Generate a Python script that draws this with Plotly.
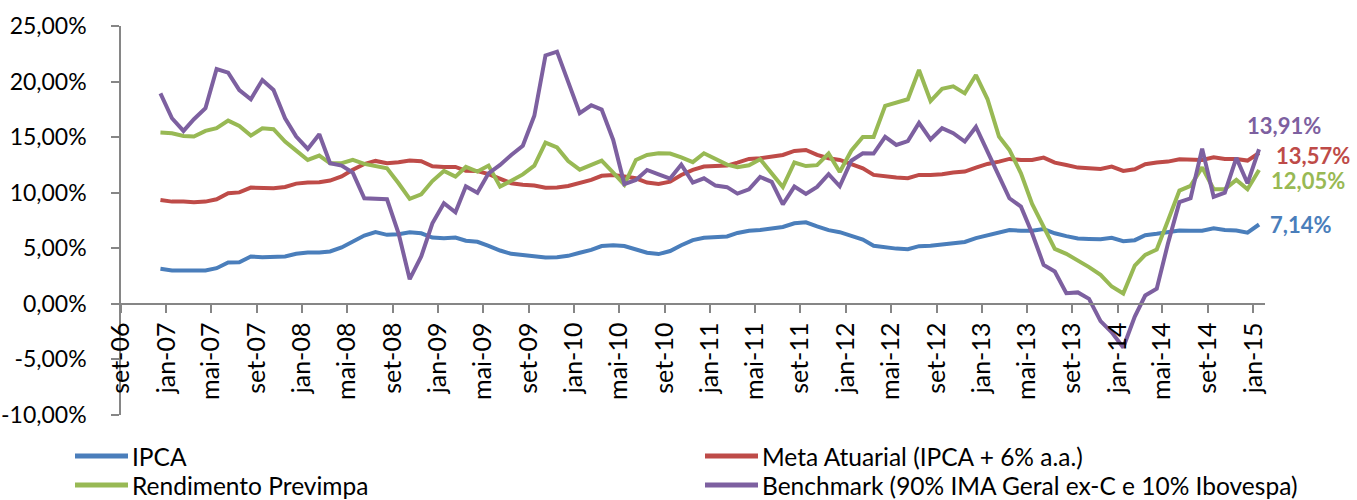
import pandas as pd
import plotly.graph_objects as go

# Monthly observations, dez-06 .. jan-15 (98 months)
months = pd.date_range("2006-12-01", "2015-01-01", freq="MS")

ipca = [3.15, 3.00, 3.00, 2.97, 3.00, 3.21, 3.72, 3.75, 4.26, 4.20,
        4.20, 4.26, 4.50, 4.62, 4.62, 4.71, 5.07, 5.61, 6.15, 6.45,
        6.21, 6.27, 6.45, 6.35, 5.97, 5.91, 5.97, 5.68, 5.58, 5.22,
        4.80, 4.50, 4.37, 4.30, 4.18, 4.20, 4.32, 4.60, 4.86, 5.20,
        5.28, 5.20, 4.86, 4.60, 4.48, 4.75, 5.27, 5.73, 5.95, 6.02,
        6.06, 6.38, 6.58, 6.65, 6.79, 6.92, 7.25, 7.34, 6.97, 6.63,
        6.45, 6.15, 5.79, 5.22, 5.05, 4.97, 4.92, 5.19, 5.23, 5.32,
        5.49, 5.57, 5.91, 6.19, 6.38, 6.65, 6.58, 6.58, 6.73, 6.35,
        6.09, 5.88, 5.84, 5.82, 5.94, 5.64, 5.73, 6.18, 6.30, 6.45,
        6.59, 6.58, 6.58, 6.80, 6.65, 6.59, 6.41, 7.14]

meta = [9.35, 9.20, 9.20, 9.14, 9.20, 9.41, 9.95, 10.03, 10.46, 10.43,
        10.40, 10.52, 10.82, 10.91, 10.94, 11.09, 11.46, 12.06, 12.58, 12.86,
        12.65, 12.74, 12.90, 12.83, 12.38, 12.32, 12.32, 11.97, 11.95, 11.68,
        11.25, 10.85, 10.72, 10.64, 10.45, 10.47, 10.60, 10.90, 11.15, 11.52,
        11.60, 11.45, 11.30, 10.91, 10.79, 11.00, 11.60, 12.05, 12.35, 12.41,
        12.44, 12.71, 13.04, 13.10, 13.25, 13.40, 13.76, 13.85, 13.40, 13.10,
        12.95, 12.59, 12.20, 11.60, 11.45, 11.36, 11.30, 11.60, 11.60, 11.66,
        11.81, 11.90, 12.26, 12.59, 12.80, 13.04, 12.95, 12.95, 13.16, 12.71,
        12.50, 12.26, 12.20, 12.14, 12.35, 11.96, 12.11, 12.56, 12.71, 12.80,
        13.01, 13.01, 12.95, 13.19, 13.04, 13.04, 12.89, 13.57]

rendimento = [15.41, 15.35, 15.11, 15.05, 15.56, 15.80, 16.49, 16.01, 15.14, 15.80,
              15.71, 14.60, 13.79, 12.95, 13.34, 12.65, 12.65, 12.95, 12.59, 12.41,
              12.20, 10.85, 9.45, 9.85, 11.05, 11.96, 11.45, 12.32, 11.90, 12.44,
              10.55, 11.08, 11.65, 12.43, 14.51, 14.08, 12.85, 12.08, 12.50, 12.88,
              11.80, 10.72, 12.95, 13.40, 13.55, 13.52, 13.18, 12.75, 13.55, 13.00,
              12.53, 12.29, 12.47, 13.01, 11.75, 10.52, 12.72, 12.40, 12.48, 13.52,
              11.87, 13.78, 15.02, 15.02, 17.81, 18.08, 18.41, 21.04, 18.25, 19.35,
              19.57, 18.94, 20.59, 18.43, 15.05, 13.85, 11.75, 9.00, 6.90, 4.95,
              4.50, 3.93, 3.31, 2.61, 1.56, 0.93, 3.45, 4.41, 4.89, 7.48,
              10.19, 10.62, 12.28, 10.32, 10.32, 11.15, 10.31, 12.05]

benchmark = [18.94, 16.70, 15.56, 16.61, 17.60, 21.13, 20.80, 19.24, 18.41, 20.14,
             19.24, 16.70, 15.05, 13.94, 15.26, 12.65, 12.44, 11.81, 9.50, 9.47,
             9.41, 6.35, 2.22, 4.26, 7.25, 9.05, 8.24, 10.58, 10.00, 11.75,
             12.50, 13.40, 14.22, 16.92, 22.35, 22.69, 20.05, 17.15, 17.87, 17.48,
             14.75, 10.78, 11.15, 12.05, 11.66, 11.27, 12.53, 10.91, 11.30, 10.64,
             10.50, 9.92, 10.30, 11.42, 10.98, 8.95, 10.55, 9.89, 10.52, 11.67,
             10.58, 12.88, 13.55, 13.52, 15.02, 14.30, 14.65, 16.28, 14.80, 15.80,
             15.35, 14.60, 15.92, 13.78, 11.50, 9.50, 8.75, 6.35, 3.51, 2.91,
             0.96, 1.03, 0.45, -1.55, -2.56, -3.92, -1.14, 0.75, 1.37, 5.40,
             9.15, 9.50, 13.97, 9.62, 10.00, 13.13, 10.85, 13.91]

series_names = ["IPCA", "Meta Atuarial (IPCA + 6% a.a.)",
                "Rendimento Previmpa", "Benchmark (90% IMA Geral ex-C e 10% Ibovespa)"]
series_colors = ["#4A7EBB", "#BE4B48", "#98B954", "#7D60A0"]

tick_dates = pd.date_range("2006-09-01", "2015-01-01", freq="4MS")
tick_labels = ["set-06", "jan-07", "mai-07", "set-07", "jan-08", "mai-08", "set-08",
               "jan-09", "mai-09", "set-09", "jan-10", "mai-10", "set-10", "jan-11",
               "mai-11", "set-11", "jan-12", "mai-12", "set-12", "jan-13", "mai-13",
               "set-13", "jan-14", "mai-14", "set-14", "jan-15"]

y_ticks = [-10, -5, 0, 5, 10, 15, 20, 25]
y_labels = ["-10,00%", "-5,00%", "0,00%", "5,00%", "10,00%", "15,00%", "20,00%", "25,00%"]

x = months + pd.Timedelta(days=15)

FONT = "Lato"
W, H = 1357, 500
ML, MT = 121, 26
MR = W - 1265
MB = H - 415
PW, PH = W - ML - MR, H - MT - MB


def px_x(p):  # screen pixel -> paper x
    return (p - ML) / PW


def px_y(p):  # screen pixel -> paper y
    return (H - MB - p) / PH


fig = go.Figure()
all_series = [ipca, meta, rendimento, benchmark]
for name, vals, col in zip(series_names, all_series, series_colors):
    fig.add_trace(go.Scatter(x=x, y=vals, mode="lines", name=name,
                             line=dict(color=col, width=4), showlegend=False))

# end-of-series value labels
label_offsets = {0: (9, 0), 1: (15, -2), 2: (10, -11), 3: (-14, 24)}
for k, (vals, col) in enumerate(zip(all_series, series_colors)):
    xs, ys = label_offsets[k]
    fig.add_annotation(x=x[-1], y=vals[-1],
                       text=f"{vals[-1]:.2f}".replace(".", ",") + "%",
                       showarrow=False, xanchor="left", yanchor="middle",
                       xshift=xs, yshift=ys,
                       font=dict(family=FONT, size=22, color=col, weight="bold"))

# legend (two columns, two rows) drawn below the plot
legend_slots = [(75, 456), (705, 456), (75, 485), (705, 485)]
for (lx, ly), name, col in zip(legend_slots, series_names, series_colors):
    fig.add_shape(type="line", xref="paper", yref="paper",
                  x0=px_x(lx), x1=px_x(lx + 53), y0=px_y(ly), y1=px_y(ly),
                  line=dict(color=col, width=5))
    fig.add_annotation(xref="paper", yref="paper", x=px_x(lx + 55), y=px_y(ly),
                       text=name, showarrow=False, xanchor="left", yanchor="middle",
                       font=dict(family=FONT, size=24.5, color="black"))

axis_gray = "#868686"
fig.update_layout(
    template="none",
    width=W, height=H,
    margin=dict(l=ML, r=MR, t=MT, b=MB, pad=0),
    paper_bgcolor="white", plot_bgcolor="white",
    font=dict(family=FONT, size=24, color="black"),
    showlegend=False,
    xaxis=dict(type="date", range=["2006-09-01", "2015-02-01"],
               tickvals=tick_dates, ticktext=tick_labels, tickangle=-90,
               showgrid=False, zeroline=False, automargin=False,
               showline=True, linecolor=axis_gray, linewidth=1.5,
               ticks="outside", ticklen=8, tickcolor=axis_gray, tickwidth=1.5,
               anchor="free", position=10 / 35,
               tickfont=dict(family=FONT, size=25, color="black")),
    yaxis=dict(range=[-10, 25], tickvals=y_ticks, ticktext=y_labels,
               showgrid=False, zeroline=False, automargin=False,
               showline=True, linecolor=axis_gray, linewidth=1.5,
               ticks="outside", ticklen=8, tickcolor=axis_gray, tickwidth=1.5,
               ticklabelstandoff=20,
               tickfont=dict(family=FONT, size=23, color="black")),
)

fig.write_html("out.html",
               config={"displayModeBar": False},
               post_script="document.body.style.margin='0';"
                           "document.documentElement.style.overflow='hidden';")
